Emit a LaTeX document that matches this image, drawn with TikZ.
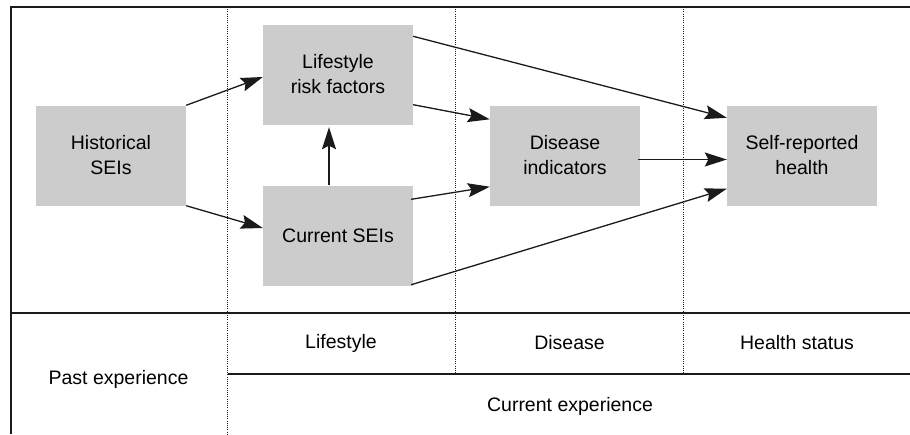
\documentclass[tikz,border=0pt]{standalone}
\usepackage{fontspec}
\setmainfont{Liberation Sans}
\usetikzlibrary{arrows.meta,calc}
\definecolor{boxgray}{HTML}{CCCCCC}
\definecolor{linecol}{HTML}{1A1A1A}
\tikzset{
  box/.style={rectangle, fill=boxgray, minimum width=150pt, minimum height=100pt, inner sep=0pt, align=center, font=\fontsize{19.5}{25}\selectfont},
  lbl/.style={inner sep=0pt, font=\fontsize{19.5}{25}\selectfont},
  conn/.style={draw=linecol, line width=1.3pt, -{Stealth[length=22pt, width=14pt, inset=3.5pt]}},
  frame/.style={draw=linecol, line width=1.6pt},
  sep/.style={draw=linecol, line width=0.8pt, dash pattern=on 1pt off 1.2pt}
}
\begin{document}
\begin{tikzpicture}[x=1pt,y=-1pt]
\useasboundingbox (0,0) rectangle (910,434);
% frame
\draw[frame] (11,434) -- (11,7) -- (910,7);
\draw[frame] (11,313) -- (910,313);
\draw[frame] (227.5,374) -- (910,374);
% dotted separators
\draw[sep] (227.5,7) -- (227.5,434);
\draw[sep] (455,7) -- (455,374);
\draw[sep] (683,7) -- (683,374);
% boxes
\node[box] (hist) at (111,155.5) {Historical\\SEIs};
\node[box] (lif) at (338,74.5) {Lifestyle\\risk factors};
\node[box] (cur) at (338,235.5) {Current SEIs};
\node[box] (dis) at (565,155.5) {Disease\\indicators};
\node[box] (self) at (802,155.5) {Self-reported\\health};
% connectors
\draw[conn] (hist.north east) -- ($(lif.west)+(0,2.5)$);
\draw[conn] (hist.south east) -- ($(cur.west)+(0,-7.5)$);
\draw[conn] ($(cur.north)+(-9,0)$) -- ($(lif.south)+(-9,2.5)$);
\draw[conn] ($(lif.north east)+(0,12)$) -- ($(self.north west)+(0,12.5)$);
\draw[conn] ($(lif.south east)+(0,-20)$) -- ($(dis.north west)+(0,14)$);
\draw[conn] ($(cur.north east)+(-2,14)$) -- ($(dis.south west)+(0,-19)$);
\draw[conn] ($(cur.south east)+(-2,-1)$) -- ($(self.south west)+(0,-17)$);
\draw[conn] ($(dis.east)+(-2,4)$) -- ($(self.west)+(0,4)$);
% bottom labels
\node[lbl] (lLife) at (341,343) {Lifestyle};
\node[lbl] (lDis) at (569.5,343) {Disease};
\node[lbl] (lHealth) at (797,343) {Health status};
\node[lbl] (lPast) at (118.5,379) {Past experience};
\node[lbl] (lCur) at (570,406) {Current experience};
\end{tikzpicture}
\end{document}
